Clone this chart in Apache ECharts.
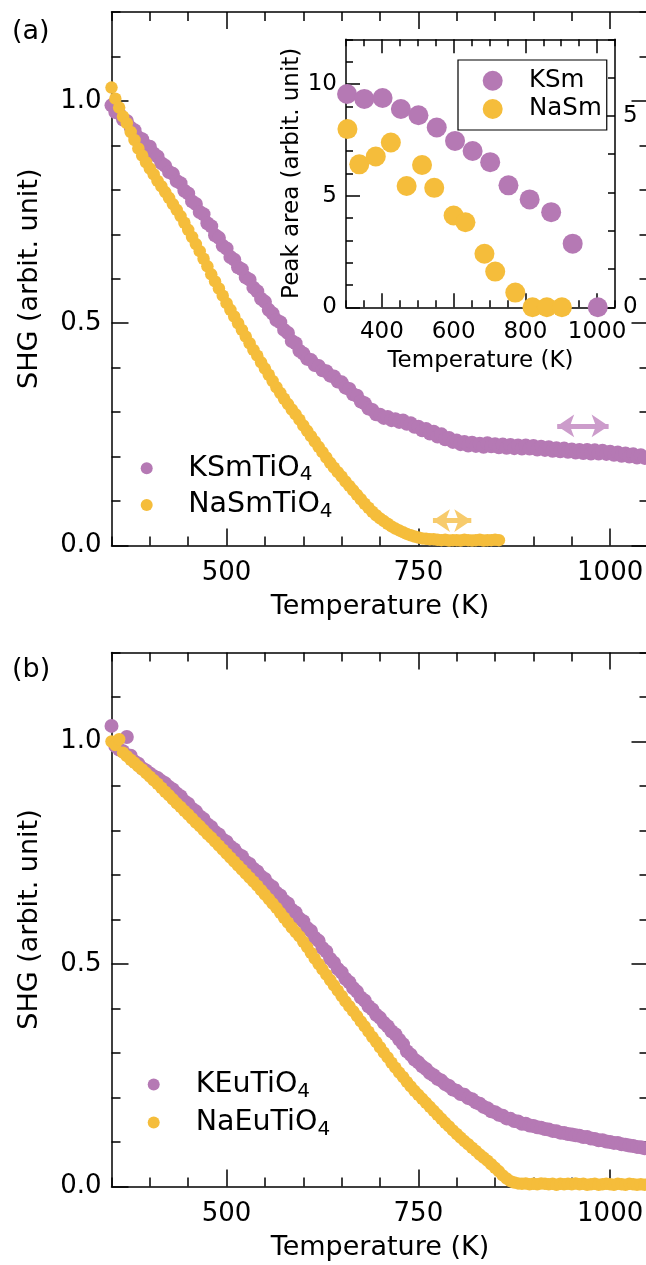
<!DOCTYPE html>
<html>
<head>
    <meta charset="utf-8">
    <title>SHG vs temperature</title>
    <script src="https://cdnjs.cloudflare.com/ajax/libs/echarts/6.0.0/echarts.min.js"></script>
    <style>
        html, body { margin: 0; padding: 0; background: #fff; }
    </style>
</head>
<body>
<div id="main" style="width: 646px;height:1265px;"></div>
<script type="text/javascript">
    // temperature grid of the SHG scans (K)
    var temps = [350, 355, 360, 365, 370, 375, 380, 385, 390, 395,
        400, 405, 410, 415, 420, 425, 430, 435, 440, 445,
        450, 455, 460, 465, 470, 475, 480, 485, 490, 495,
        500, 505, 510, 515, 520, 525, 530, 535, 540, 545,
        550, 555, 560, 565, 570, 575, 580, 585, 590, 595,
        600, 605, 610, 615, 620, 625, 630, 635, 640, 645,
        650, 655, 660, 665, 670, 675, 680, 685, 690, 695,
        700, 705, 710, 715, 720, 725, 730, 735, 740, 745,
        750, 755, 760, 765, 770, 775, 780, 785, 790, 795,
        800, 805, 810, 815, 820, 825, 830, 835, 840, 845,
        850, 855, 860, 865, 870, 875, 880, 885, 890, 895,
        900, 905, 910, 915, 920, 925, 930, 935, 940, 945,
        950, 955, 960, 965, 970, 975, 980, 985, 990, 995,
        1000, 1005, 1010, 1015, 1020, 1025, 1030, 1035, 1040, 1045];

    // panel (a)
    var ksmShg = [0.99, 0.975, 0.972, 0.958, 0.955, 0.94, 0.934, 0.918, 0.914, 0.9,
        0.897, 0.882, 0.875, 0.86, 0.854, 0.84, 0.836, 0.82, 0.815, 0.798,
        0.792, 0.774, 0.768, 0.75, 0.745, 0.725, 0.718, 0.698, 0.692, 0.674,
        0.668, 0.649, 0.643, 0.626, 0.621, 0.603, 0.598, 0.58, 0.572, 0.555,
        0.548, 0.53, 0.522, 0.507, 0.502, 0.485, 0.478, 0.46, 0.455, 0.438,
        0.432, 0.42, 0.417, 0.406, 0.404, 0.394, 0.392, 0.382, 0.38, 0.369,
        0.367, 0.355, 0.352, 0.34, 0.337, 0.324, 0.32, 0.308, 0.305, 0.295,
        0.294, 0.287, 0.289, 0.282, 0.284, 0.278, 0.281, 0.274, 0.275, 0.267,
        0.267, 0.259, 0.262, 0.252, 0.256, 0.245, 0.25, 0.239, 0.242, 0.233,
        0.236, 0.228, 0.233, 0.225, 0.231, 0.224, 0.229, 0.222, 0.23, 0.223,
        0.228, 0.221, 0.227, 0.22, 0.226, 0.219, 0.225, 0.218, 0.225, 0.218,
        0.224, 0.216, 0.222, 0.215, 0.221, 0.213, 0.219, 0.212, 0.218, 0.211,
        0.216, 0.209, 0.215, 0.208, 0.215, 0.207, 0.214, 0.207, 0.213, 0.206,
        0.211, 0.204, 0.209, 0.202, 0.207, 0.2, 0.205, 0.198, 0.203, 0.197];
    var nasmShg = [1.03, 1.005, 0.985, 0.965, 0.95, 0.93, 0.912, 0.893, 0.877, 0.862,
        0.848, 0.835, 0.82, 0.808, 0.795, 0.782, 0.768, 0.755, 0.741, 0.726,
        0.71, 0.694, 0.678, 0.662, 0.645, 0.628, 0.61, 0.594, 0.578, 0.562,
        0.545, 0.53, 0.515, 0.5, 0.485, 0.47, 0.455, 0.44, 0.427, 0.412,
        0.398, 0.384, 0.37, 0.356, 0.343, 0.33, 0.318, 0.306, 0.295, 0.283,
        0.27, 0.258, 0.246, 0.234, 0.222, 0.21, 0.198, 0.186, 0.175, 0.165,
        0.155, 0.144, 0.134, 0.124, 0.114, 0.104, 0.094, 0.085, 0.076, 0.068,
        0.061, 0.055, 0.049, 0.043, 0.038, 0.034, 0.03, 0.026, 0.023, 0.02,
        0.018, 0.016, 0.015, 0.014, 0.014, 0.013, 0.012, 0.013, 0.011, 0.012,
        0.012, 0.011, 0.013, 0.012, 0.011, 0.012, 0.013, 0.011, 0.012, 0.012,
        0.013, 0.012];

    // panel (b)
    var keuShg = [1.035, 0.99, 0.982, 0.978, 1.01, 0.968, 0.955, 0.95, 0.94, 0.935,
        0.928, 0.922, 0.918, 0.911, 0.906, 0.898, 0.892, 0.883, 0.877, 0.866,
        0.86, 0.849, 0.843, 0.832, 0.826, 0.814, 0.808, 0.797, 0.791, 0.78,
        0.775, 0.764, 0.758, 0.747, 0.742, 0.73, 0.725, 0.714, 0.708, 0.697,
        0.691, 0.679, 0.673, 0.66, 0.654, 0.642, 0.636, 0.622, 0.616, 0.602,
        0.596, 0.581, 0.574, 0.559, 0.552, 0.536, 0.528, 0.512, 0.503, 0.489,
        0.481, 0.467, 0.459, 0.446, 0.438, 0.425, 0.418, 0.405, 0.398, 0.386,
        0.379, 0.368, 0.36, 0.349, 0.342, 0.33, 0.32, 0.304, 0.296, 0.285,
        0.279, 0.27, 0.264, 0.255, 0.25, 0.242, 0.238, 0.23, 0.226, 0.218,
        0.215, 0.208, 0.206, 0.199, 0.196, 0.189, 0.186, 0.179, 0.176, 0.169,
        0.167, 0.161, 0.159, 0.153, 0.152, 0.147, 0.146, 0.141, 0.141, 0.137,
        0.136, 0.133, 0.132, 0.129, 0.128, 0.125, 0.124, 0.121, 0.12, 0.118,
        0.117, 0.115, 0.114, 0.111, 0.111, 0.108, 0.107, 0.104, 0.104, 0.101,
        0.1, 0.098, 0.098, 0.095, 0.094, 0.092, 0.091, 0.089, 0.088, 0.086];
    var naeuShg = [1.0, 0.992, 1.005, 0.975, 0.967, 0.959, 0.952, 0.944, 0.937, 0.929,
        0.921, 0.913, 0.905, 0.896, 0.887, 0.879, 0.87, 0.861, 0.853, 0.844,
        0.836, 0.827, 0.818, 0.81, 0.801, 0.792, 0.784, 0.775, 0.766, 0.757,
        0.748, 0.739, 0.73, 0.721, 0.712, 0.703, 0.694, 0.685, 0.676, 0.666,
        0.656, 0.646, 0.636, 0.626, 0.615, 0.604, 0.593, 0.582, 0.572, 0.562,
        0.55, 0.538, 0.525, 0.512, 0.5, 0.488, 0.476, 0.464, 0.452, 0.44,
        0.428, 0.416, 0.405, 0.394, 0.383, 0.371, 0.36, 0.348, 0.336, 0.325,
        0.313, 0.301, 0.29, 0.278, 0.267, 0.256, 0.246, 0.235, 0.225, 0.215,
        0.206, 0.197, 0.188, 0.179, 0.17, 0.161, 0.152, 0.143, 0.135, 0.126,
        0.118, 0.11, 0.102, 0.095, 0.087, 0.08, 0.072, 0.065, 0.058, 0.05,
        0.042, 0.034, 0.025, 0.018, 0.012, 0.009, 0.007, 0.006, 0.007, 0.005,
        0.006, 0.005, 0.007, 0.006, 0.005, 0.006, 0.004, 0.006, 0.005, 0.006,
        0.005, 0.007, 0.005, 0.006, 0.004, 0.005, 0.006, 0.004, 0.005, 0.006,
        0.005, 0.004, 0.006, 0.005, 0.004, 0.006, 0.005, 0.004, 0.005, 0.004];

    // inset: peak area
    var inTempK = [303, 351, 402, 453, 502, 553, 604, 653, 702, 753, 812, 872, 932, 1002];
    var inKSm = [9.55, 9.33, 9.37, 8.88, 8.6, 8.05, 7.45, 7.0, 6.5, 5.46, 4.83, 4.26, 2.85, 0];
    var inTempNa = [304, 337, 383, 425, 469, 512, 546, 600, 633, 686, 716, 772, 820, 860, 902];
    var inNaSm = [7.98, 6.4, 6.75, 7.38, 5.43, 6.37, 5.35, 4.11, 3.81, 2.4, 1.6, 0.66, 0, 0, 0];

    // double arrows in (a): [from K, to K, SHG level]
    var arrowKSm = [931, 998, 0.269];
    var arrowNaSm = [769, 819, 0.056];

    // ticks
    var mainXMajor = [500, 750, 1000];
    var mainXMinor = [350, 400, 450, 500, 550, 600, 650, 700, 750, 800, 850, 900, 950, 1000, 1050];
    var mainYMajor = [0, 0.5, 1.0];
    var mainYMinor = [0, 0.1, 0.2, 0.3, 0.4, 0.5, 0.6, 0.7, 0.8, 0.9, 1.0, 1.1, 1.2];
    var inXMajor = [400, 600, 800, 1000];
    var inXMinor = [300, 350, 400, 450, 500, 550, 600, 650, 700, 750, 800, 850, 900, 950, 1000, 1050];
    var inYMajor = [0, 5, 10];
    var inYMinor = [0, 1, 2, 3, 4, 5, 6, 7, 8, 9, 10, 11, 12];
    var inY2Major = [0, 5];
    var inY2Minor = [0, 1, 2, 3, 4, 5, 6, 7];

    var purple = '#b579b4';
    var yellow = '#f5bd3b';
    var font = 'DejaVu Sans, Verdana, sans-serif';

    function pairs(xs, ys) {
        var out = [];
        for (var i = 0; i < ys.length; i++) out.push([xs[i], ys[i]]);
        return out;
    }

    var fmt1 = function (v) { return v.toFixed(1); };
    var fmt0 = function (v) { return String(Math.round(v)); };

    // one axis = one set of inward ticks; the frame line is drawn by the minor-tick axis
    function axis(grid, pos, min, max, ticks, len, line, labels, lab) {
        lab = lab || {};
        return {
            type: 'value', gridIndex: grid, position: pos, min: min, max: max,
            axisLine: {show: line, onZero: false, lineStyle: {color: '#000', width: 1.5}},
            axisTick: {show: true, inside: true, length: len, customValues: ticks,
                lineStyle: {color: '#000', width: 1.5}},
            axisLabel: {show: !!labels, customValues: labels || undefined, color: '#000',
                fontFamily: font, fontSize: lab.size || 26, margin: lab.margin || 10,
                formatter: lab.fmt || fmt0},
            splitLine: {show: false},
            name: lab.name || '', nameLocation: 'middle', nameGap: lab.gap || 0,
            nameTextStyle: {color: '#000', fontFamily: font, fontSize: lab.nameSize || 27}
        };
    }

    var xAxes = [
        axis(0, 'bottom', 350, 1050, mainXMajor, 17, false, mainXMajor,
            {margin: 15, name: 'Temperature (K)', gap: 48}),
        axis(0, 'bottom', 350, 1050, mainXMinor, 9, true),
        axis(0, 'top', 350, 1050, mainXMajor, 17, false),
        axis(0, 'top', 350, 1050, mainXMinor, 9, true),
        axis(1, 'bottom', 300, 1050, inXMajor, 14, false, inXMajor,
            {size: 23, margin: 13, name: 'Temperature (K)', gap: 42, nameSize: 23}),
        axis(1, 'bottom', 300, 1050, inXMinor, 7, true),
        axis(1, 'top', 300, 1050, inXMajor, 14, false),
        axis(1, 'top', 300, 1050, inXMinor, 7, true),
        axis(2, 'bottom', 350, 1050, mainXMajor, 17, false, mainXMajor,
            {margin: 15, name: 'Temperature (K)', gap: 48}),
        axis(2, 'bottom', 350, 1050, mainXMinor, 9, true),
        axis(2, 'top', 350, 1050, mainXMajor, 17, false),
        axis(2, 'top', 350, 1050, mainXMinor, 9, true)
    ];
    var yAxes = [
        axis(0, 'left', 0, 1.2, mainYMajor, 17, false, mainYMajor,
            {margin: 10, fmt: fmt1, name: 'SHG (arbit. unit)', gap: 68}),
        axis(0, 'left', 0, 1.2, mainYMinor, 9, true),
        axis(0, 'right', 0, 1.2, mainYMajor, 17, false),
        axis(0, 'right', 0, 1.2, mainYMinor, 9, true),
        axis(1, 'left', 0, 12, inYMajor, 14, false, inYMajor,
            {size: 23, margin: 9, name: 'Peak area (arbit. unit)', gap: 40, nameSize: 23}),
        axis(1, 'left', 0, 12, inYMinor, 7, true),
        axis(1, 'right', 0, 7, inY2Major, 14, false, inY2Major, {size: 23, margin: 8}),
        axis(1, 'right', 0, 7, inY2Minor, 7, true),
        axis(2, 'left', 0, 1.2, mainYMajor, 17, false, mainYMajor,
            {margin: 10, fmt: fmt1, name: 'SHG (arbit. unit)', gap: 68}),
        axis(2, 'left', 0, 1.2, mainYMinor, 9, true),
        axis(2, 'right', 0, 1.2, mainYMajor, 17, false),
        axis(2, 'right', 0, 1.2, mainYMinor, 9, true)
    ];

    function scatter(name, data, xi, yi, color, size, z) {
        return {
            name: name, type: 'scatter', xAxisIndex: xi, yAxisIndex: yi,
            data: data, symbol: 'circle', symbolSize: size, z: z || 2,
            itemStyle: {color: color, opacity: 1}
        };
    }

    function arrow(a, color) {
        return {
            silent: true, symbol: ['arrow', 'arrow'], symbolSize: 17,
            label: {show: false},
            lineStyle: {color: color, width: 5, type: 'solid'},
            data: [[{coord: [a[0], a[2]]}, {coord: [a[1], a[2]]}]]
        };
    }

    var sub = function (name) {
        return '{n|' + name.slice(0, -1) + '}{s|' + name.slice(-1) + '}';
    };
    function mainLegend(names, left, top, gap, textPad) {
        return {
            data: names, orient: 'vertical', left: left, top: top, padding: 0,
            itemWidth: 12, itemHeight: 12, itemGap: gap, selectedMode: false,
            icon: 'circle', formatter: sub,
            textStyle: {
                padding: [0, 0, 0, textPad],
                rich: {
                    n: {fontSize: 28.5, lineHeight: 34, fontFamily: font, color: '#000', verticalAlign: 'middle'},
                    s: {fontSize: 20, lineHeight: 14, fontFamily: font, color: '#000', verticalAlign: 'bottom'}
                }
            }
        };
    }

    var sKSm = scatter('KSmTiO4', pairs(temps, ksmShg), 0, 0, purple, 14, 2);
    sKSm.markLine = arrow(arrowKSm, '#cc9ccb');
    var sNaSm = scatter('NaSmTiO4', pairs(temps, nasmShg), 0, 0, yellow, 12.5, 3);
    sNaSm.markLine = arrow(arrowNaSm, '#f7cb6c');

    var option = {
        animation: false,
        backgroundColor: '#fff',
        title: [
            {text: '(a)', left: 12, top: 18, padding: 0,
                textStyle: {fontFamily: font, fontSize: 27, fontWeight: 'normal', color: '#000'}},
            {text: '(b)', left: 12, top: 656, padding: 0,
                textStyle: {fontFamily: font, fontSize: 27, fontWeight: 'normal', color: '#000'}}
        ],
        grid: [
            {left: 111.5, top: 12, width: 537, height: 533.5, outerBoundsMode: 'none'},
            {left: 346, top: 39.3, width: 269, height: 268, outerBoundsMode: 'none'},
            {left: 111.5, top: 652.5, width: 537, height: 534, outerBoundsMode: 'none'}
        ],
        legend: [
            mainLegend(['KSmTiO4', 'NaSmTiO4'], 140.7, 453.7, 5.3, 30.6),
            {data: ['KSm', 'NaSm'], orient: 'vertical', left: 458, top: 60,
                padding: [7.7, 5, 8, 24.7], itemWidth: 20, itemHeight: 20, itemGap: 2.3,
                selectedMode: false, icon: 'circle', borderColor: '#000', borderWidth: 1.2,
                backgroundColor: '#fff',
                textStyle: {fontFamily: font, fontSize: 24.5, lineHeight: 26, color: '#000',
                    padding: [0, 0, 0, 21.3]}},
            mainLegend(['KEuTiO4', 'NaEuTiO4'], 147.7, 1070, 6.4, 31)
        ],
        xAxis: xAxes,
        yAxis: yAxes,
        series: [
            sKSm,
            sNaSm,
            scatter('KSm', pairs(inTempK, inKSm), 4, 4, purple, 20, 4),
            scatter('NaSm', pairs(inTempNa, inNaSm), 4, 4, yellow, 20, 4),
            scatter('KEuTiO4', pairs(temps, keuShg), 8, 8, purple, 14, 2),
            scatter('NaEuTiO4', pairs(temps, naeuShg), 8, 8, yellow, 12.5, 3)
        ]
    };

    var myChart = echarts.init(document.getElementById('main'));
    myChart.setOption(option);
</script>
</body>
</html>
